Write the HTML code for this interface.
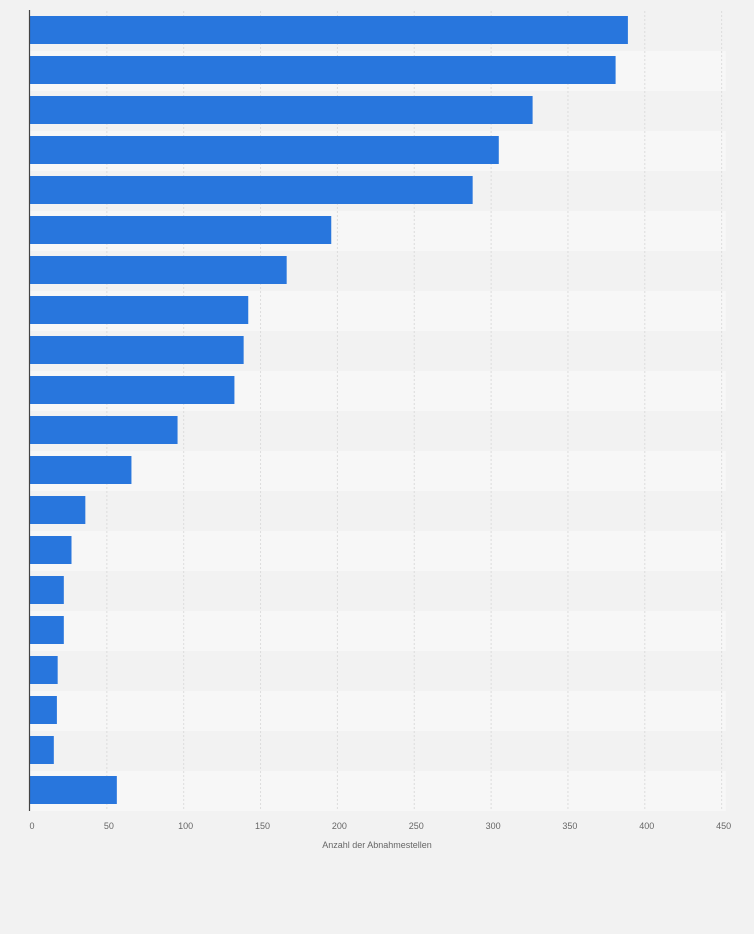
<!DOCTYPE html>
<html><head><meta charset="utf-8"><style>
body{margin:0;background:#f2f2f2;font-family:"Liberation Sans",sans-serif}
</style></head><body>
<svg id="c" width="754" height="929" xmlns="http://www.w3.org/2000/svg">
<rect width="754" height="929" fill="#f2f2f2"/>
</svg>
<script>
const categories=["c1","c2","c3","c4","c5","c6","c7","c8","c9","c10","c11","c12","c13","c14","c15","c16","c17","c18","c19","c20"];
const values=[389,381,327,305,288,196,167,142,139,133,96,66,36,27,22,22,18,17.5,15.5,56.5];
const ticks=[0,50,100,150,200,250,300,350,400,450];
const svg=document.getElementById('c');
const NS='http://www.w3.org/2000/svg';
const x0=30,k=1.537,top0=11,rowH=40;
const x=v=>x0+v*k;
const y=i=>top0+i*rowH;
function mk(t,a){const e=document.createElementNS(NS,t);for(const n in a)e.setAttribute(n,a[n]);svg.appendChild(e);return e;}
categories.forEach((c,i)=>{
 const r=mk('rect',{x:x0,y:y(i),width:x(450)-x0+4,height:rowH,fill:i%2?'#f7f7f7':'#f2f2f2'});
 
 
});
ticks.forEach(t=>{
 if(t>0){const g=mk('line',{x1:x(t),x2:x(t),y1:top0,y2:top0+categories.length*rowH,stroke:'#dcdcdc','stroke-dasharray':'2,2'});
 
 }
 const l=mk('text',{x:x(t)+2,y:829,'font-size':9,fill:'#666','text-anchor':'middle'});
 l.textContent=t;
 
 
});
values.forEach((v,i)=>{
 const b=mk('rect',{x:x0,y:y(i)+5,width:x(v)-x0,height:28,fill:'#2876dd'});
 
 
});
const ax=mk('line',{x1:x0-0.5,x2:x0-0.5,y1:10,y2:top0+categories.length*rowH,stroke:'#444','stroke-width':1.2});


const tt=mk('text',{x:377,y:848,'font-size':9,fill:'#666','text-anchor':'middle'});
tt.textContent='Anzahl der Abnahmestellen';


</script>
</body></html>
